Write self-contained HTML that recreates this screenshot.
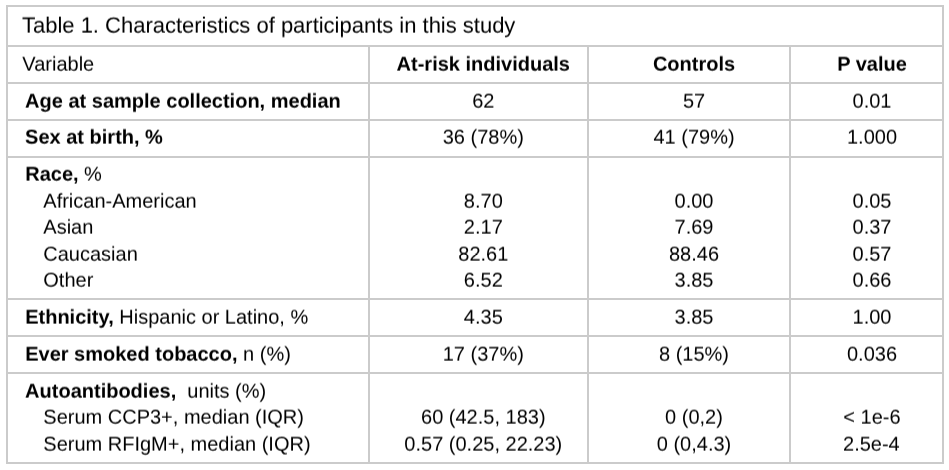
<!DOCTYPE html>
<html><head><meta charset="utf-8"><title>Table 1</title>
<style>
html,body{margin:0;padding:0;background:#fff;}
body{text-rendering:geometricPrecision;width:949px;height:470px;position:relative;overflow:hidden;font-family:"Liberation Sans",sans-serif;color:#000;}
.h{position:absolute;left:6px;width:938px;height:2px;background:#cbcbcb;}
.v{position:absolute;width:2px;background:#cbcbcb;}
.t{position:absolute;white-space:nowrap;font-size:20px;line-height:24px;height:24px;}
.c{text-align:center;width:200px;}
b{font-weight:bold;}
#txt{position:absolute;left:0;top:0;width:949px;height:470px;transform:translate3d(0,-0.4px,0) rotateX(0.01deg);}
</style></head><body>

<div class="h" style="top:5px"></div>
<div class="h" style="top:45px"></div>
<div class="h" style="top:82px"></div>
<div class="h" style="top:119px"></div>
<div class="h" style="top:156px"></div>
<div class="h" style="top:298px"></div>
<div class="h" style="top:335px"></div>
<div class="h" style="top:372px"></div>
<div class="h" style="top:462px"></div>
<div class="v" style="left:6px;top:5px;height:459px"></div>
<div class="v" style="left:942px;top:5px;height:459px"></div>
<div class="v" style="left:368px;top:45px;height:419px"></div>
<div class="v" style="left:587px;top:45px;height:419px"></div>
<div class="v" style="left:789px;top:45px;height:419px"></div>
<div id="txt">
<div class="t" style="left:22.0px;top:12.00px;font-size:22px;line-height:27px;height:27px;letter-spacing:-0.012px;">Table 1. Characteristics of participants in this study</div>
<div class="t" style="left:22.3px;top:53.00px;font-size:20px;line-height:24px;height:24px;">Variable</div>
<div class="t c" style="left:383.3px;top:53.00px;"><b>At-risk individuals</b></div>
<div class="t c" style="left:594px;top:53.00px;"><b>Controls</b></div>
<div class="t c" style="left:772px;top:53.00px;"><b>P value</b></div>
<div class="t" style="left:25.1px;top:90.00px;font-size:20px;line-height:24px;height:24px;"><b>Age at sample collection, median</b></div>
<div class="t c" style="left:383.3px;top:90.00px;">62</div>
<div class="t c" style="left:594px;top:90.00px;">57</div>
<div class="t c" style="left:772px;top:90.00px;">0.01</div>
<div class="t" style="left:25.1px;top:126.00px;font-size:20px;line-height:24px;height:24px;"><b>Sex at birth, %</b></div>
<div class="t c" style="left:383.3px;top:126.00px;">36 (78%)</div>
<div class="t c" style="left:594px;top:126.00px;">41 (79%)</div>
<div class="t c" style="left:772px;top:126.00px;">1.000</div>
<div class="t" style="left:25.2px;top:163.00px;font-size:20px;line-height:24px;height:24px;"><b>Race,</b> %</div>
<div class="t" style="left:43.3px;top:190.00px;font-size:20px;line-height:24px;height:24px;">African-American</div>
<div class="t c" style="left:383.3px;top:190.00px;">8.70</div>
<div class="t c" style="left:594px;top:190.00px;">0.00</div>
<div class="t c" style="left:772px;top:190.00px;">0.05</div>
<div class="t" style="left:43.3px;top:216.00px;font-size:20px;line-height:24px;height:24px;">Asian</div>
<div class="t c" style="left:383.3px;top:216.00px;">2.17</div>
<div class="t c" style="left:594px;top:216.00px;">7.69</div>
<div class="t c" style="left:772px;top:216.00px;">0.37</div>
<div class="t" style="left:43.3px;top:243.00px;font-size:20px;line-height:24px;height:24px;">Caucasian</div>
<div class="t c" style="left:383.3px;top:243.00px;">82.61</div>
<div class="t c" style="left:594px;top:243.00px;">88.46</div>
<div class="t c" style="left:772px;top:243.00px;">0.57</div>
<div class="t" style="left:43.3px;top:269.00px;font-size:20px;line-height:24px;height:24px;">Other</div>
<div class="t c" style="left:383.3px;top:269.00px;">6.52</div>
<div class="t c" style="left:594px;top:269.00px;">3.85</div>
<div class="t c" style="left:772px;top:269.00px;">0.66</div>
<div class="t" style="left:25.2px;top:306.00px;font-size:20px;line-height:24px;height:24px;"><b>Ethnicity,</b> Hispanic or Latino, %</div>
<div class="t c" style="left:383.3px;top:306.00px;">4.35</div>
<div class="t c" style="left:594px;top:306.00px;">3.85</div>
<div class="t c" style="left:772px;top:306.00px;">1.00</div>
<div class="t" style="left:25.2px;top:343.00px;font-size:20px;line-height:24px;height:24px;"><b>Ever smoked tobacco,</b> n (%)</div>
<div class="t c" style="left:383.3px;top:343.00px;">17 (37%)</div>
<div class="t c" style="left:594px;top:343.00px;">8 (15%)</div>
<div class="t c" style="left:772px;top:343.00px;">0.036</div>
<div class="t" style="left:25.1px;top:380.00px;font-size:20px;line-height:24px;height:24px;"><b>Autoantibodies,</b>&nbsp; units (%)</div>
<div class="t" style="left:43.3px;top:406.00px;font-size:20px;line-height:24px;height:24px;">Serum CCP3+, median (IQR)</div>
<div class="t c" style="left:383.3px;top:406.00px;">60 (42.5, 183)</div>
<div class="t c" style="left:594px;top:406.00px;">0 (0,2)</div>
<div class="t c" style="left:772px;top:406.00px;">&lt; 1e-6</div>
<div class="t" style="left:43.3px;top:433.00px;font-size:20px;line-height:24px;height:24px;">Serum RFIgM+, median (IQR)</div>
<div class="t c" style="left:383.3px;top:433.00px;">0.57 (0.25, 22.23)</div>
<div class="t c" style="left:594px;top:433.00px;">0 (0,4.3)</div>
<div class="t c" style="left:771.4px;top:433.00px;">2.5e-4</div>
</div>
</body></html>
